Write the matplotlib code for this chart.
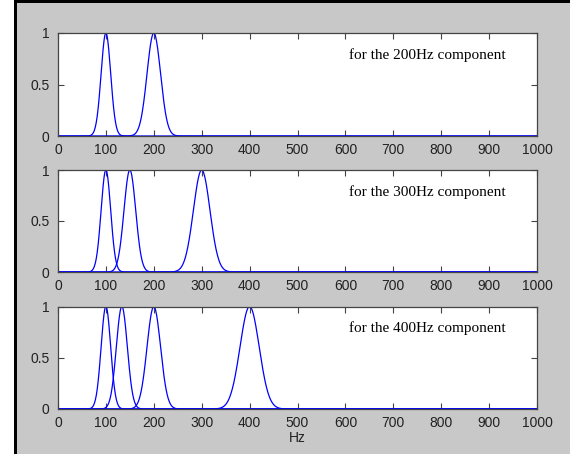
import numpy as np
import matplotlib
matplotlib.use("Agg")
import matplotlib.pyplot as plt
from matplotlib.lines import Line2D
from matplotlib.patches import Rectangle

# Data: peak centres (Hz) and widths (Hz, std-dev) for each panel
components = [200, 300, 400]
peak_centers = [
    [100, 200],
    [100, 150, 300],
    [100, 133.3, 200, 400],
]
peak_widths = [
    [10.0, 14.1],
    [10.0, 12.2, 17.3],
    [10.0, 11.5, 14.1, 20.0],
]
labels = ["for the 200Hz component", "for the 300Hz component", "for the 400Hz component"]
xticks = [0, 100, 200, 300, 400, 500, 600, 700, 800, 900, 1000]
yticks = [0, 0.5, 1]
ytick_labels = ["0", "0.5", "1"]

W, H = 570, 454
fig = plt.figure(figsize=(W / 100, H / 100), dpi=100)
fig.patch.set_facecolor("#c8c8c8")

# white strip at the left of the screenshot, then black frame left and top
fig.add_artist(Rectangle((0, 0), 14 / W, 1, transform=fig.transFigure, facecolor="white",
                         edgecolor="none", zorder=-5))
fig.add_artist(Rectangle((14 / W, 0), 3 / W, 1, transform=fig.transFigure, facecolor="black",
                         edgecolor="none"))
fig.add_artist(Rectangle((14 / W, 1 - 3 / H), 1, 3 / H, transform=fig.transFigure, facecolor="black",
                         edgecolor="none"))

left, right = 58, 537
tops = [33, 170, 306.5]
bottoms = [136, 272, 409]

x = np.arange(0, 1001, 1.0)
frame_col = "#444444"
for i in range(3):
    ax = fig.add_axes([left / W, 1 - bottoms[i] / H, (right - left) / W, (bottoms[i] - tops[i]) / H])
    ax.set_facecolor("white")
    for c, s in zip(peak_centers[i], peak_widths[i]):
        y = np.exp(-0.5 * ((x - c) / s) ** 2)
        ax.plot(x, y, color="#0000ff", lw=0.9)
    ax.set_xlim(0, 1000)
    ax.set_ylim(0, 1)
    ax.set_xticks(xticks)
    ax.set_yticks(yticks)
    ax.set_yticklabels(ytick_labels)
    ax.tick_params(direction="in", length=4, width=0.8, color=frame_col, labelsize=10,
                   labelcolor="#222222", top=True, right=True,
                   labelfontfamily="Liberation Sans")
    ax.tick_params(axis="x", pad=5)
    ax.tick_params(axis="y", pad=6)
    for sp in ax.spines.values():
        sp.set_color(frame_col)
        sp.set_linewidth(0.9)
    ax.text(0.6075, 0.786, labels[i], transform=ax.transAxes, fontfamily="Liberation Serif",
            fontsize=11, color="black", ha="left", va="center")
    if i == 2:
        ax.set_xlabel("Hz", fontfamily="Liberation Sans", fontsize=10, color="#222222", labelpad=1)

fig.savefig("out.png", dpi=100, facecolor=fig.get_facecolor())
